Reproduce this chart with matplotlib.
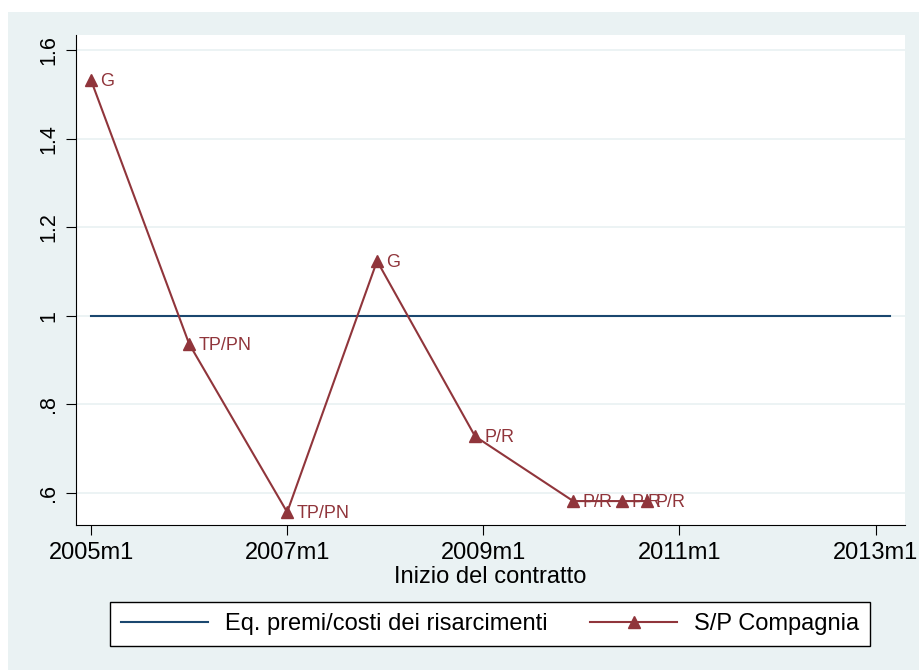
import matplotlib.pyplot as plt
from matplotlib.patches import Rectangle

plt.rcParams['font.family'] = ['Liberation Sans', 'DejaVu Sans']

# months counted from 2005m1
mesi = [0, 12, 24, 35, 47, 59, 65, 68]
sp_compagnia = [1.532, 0.937, 0.557, 1.124, 0.728, 0.582, 0.582, 0.582]
etichette = ["G", "TP/PN", "TP/PN", "G", "P/R", "P/R", "P/R", "P/R"]

pareggio_x = [0, 97.8]
pareggio_y = [1, 1]

xtick_pos = [0, 24, 48, 72, 96]
xtick_lab = ["2005m1", "2007m1", "2009m1", "2011m1", "2013m1"]
ytick_pos = [0.6, 0.8, 1.0, 1.2, 1.4, 1.6]
ytick_lab = [".6", ".8", "1", "1.2", "1.4", "1.6"]

navy = "#1a476f"
maroon = "#90353b"
sfondo = "#eaf2f3"

fig = plt.figure(figsize=(9.19, 6.70), dpi=100)
fig.patches.append(Rectangle((8 / 919, 0), 1, 1 - 12 / 670, transform=fig.transFigure,
                             facecolor=sfondo, edgecolor="none", zorder=-10))

ax = fig.add_axes([76 / 919, 1 - 525 / 670, 829 / 919, 490 / 670])
ax.set_facecolor("white")

ax.plot(pareggio_x, pareggio_y, color=navy, lw=1.5, label="Eq. premi/costi dei risarcimenti")
ax.plot(mesi, sp_compagnia, color=maroon, lw=1.5, marker="^", ms=9,
        label="S/P Compagnia")
for x, y, t in zip(mesi, sp_compagnia, etichette):
    ax.annotate(t, (x, y), xytext=(6.5, -1), textcoords="offset points",
                va="center", ha="left", color=maroon, fontsize=13)

ax.set_xlim(-1.84, 99.6)
ax.set_ylim(0.528, 1.634)
ax.set_xticks(xtick_pos)
ax.set_xticklabels(xtick_lab, fontsize=17)
ax.set_yticks(ytick_pos)
ax.set_yticklabels(ytick_lab, fontsize=15.5, rotation=90, va="center")
ax.tick_params(direction="out", length=7, width=0.8, color="black", pad=5)
ax.grid(axis="y", color=sfondo, lw=1.3)
ax.set_axisbelow(True)
for s in ["top", "right"]:
    ax.spines[s].set_visible(False)
ax.set_xlabel("Inizio del contratto", fontsize=17, labelpad=1.5)

fig.legend(loc="center", bbox_to_anchor=(490 / 919, 1 - 624 / 670), ncol=2,
           fontsize=17, frameon=True, fancybox=False, edgecolor="black",
           framealpha=1, handlelength=3.7, handletextpad=0.7, columnspacing=1.8,
           borderpad=0.45)

fig.savefig("out.png", dpi=100)
